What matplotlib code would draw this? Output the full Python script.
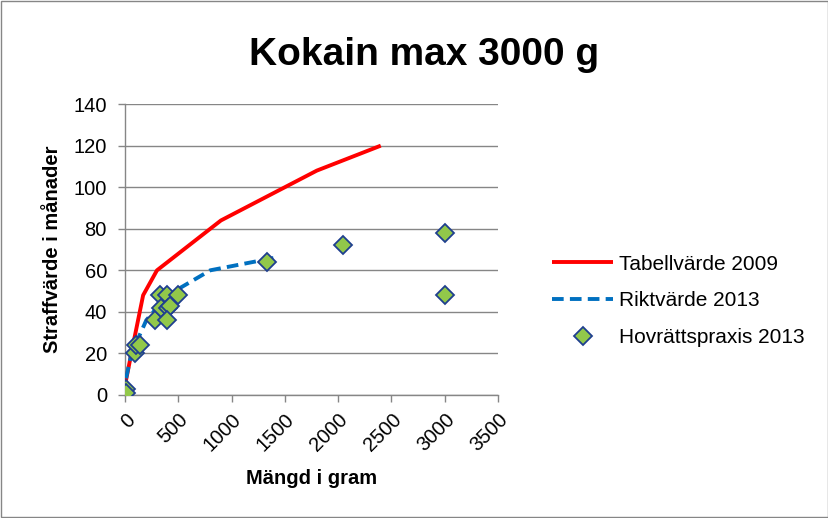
import matplotlib
matplotlib.use("Agg")
import matplotlib.pyplot as plt
from matplotlib.patches import Rectangle

plt.rcParams['font.family'] = ['Liberation Sans', 'DejaVu Sans']

# Tabellvärde 2009
tab_x = [5, 75, 170, 300, 600, 900, 1350, 1800, 2400]
tab_y = [6, 24, 48, 60, 72, 84, 96, 108, 120]

# Riktvärde 2013
rikt_x = [10, 60, 200, 400, 800, 1400]
rikt_y = [8, 20, 36, 48, 60, 66]

# Hovrättspraxis 2013
hov_x = [10, 5, 90, 100, 140, 280, 330, 390, 500, 340, 400, 420, 390, 1330, 2050, 3000, 3000]
hov_y = [3, 1, 20, 24, 24, 36, 48, 48, 48, 42, 42, 43, 36, 64, 72, 78, 48]

fig = plt.figure(figsize=(8.29, 5.18), dpi=100)
ax = fig.add_axes([0.1508, 0.2375, 0.4499, 0.5615])

ax.plot(tab_x, tab_y, color='#FF0000', lw=2.8, solid_capstyle='butt',
        label='Tabellvärde 2009', zorder=3)
ax.plot(rikt_x, rikt_y, color='#0070C0', lw=2.8, ls=(0, (3, 1.6)),
        label='Riktvärde 2013', zorder=3)
ax.plot(hov_x, hov_y, ls='none', marker='D', ms=9.5, mfc='#92C84A',
        mec='#1F3F8F', mew=1.3, label='Hovrättspraxis 2013', zorder=4)

ax.set_xlim(0, 3500)
ax.set_ylim(0, 140)
ax.set_xticks(range(0, 3501, 500))
ax.set_yticks(range(0, 141, 20))
ax.set_xticklabels([str(v) for v in range(0, 3501, 500)], rotation=45,
                   ha='right', va='top', rotation_mode='anchor', fontsize=14.5)
ax.tick_params(axis='y', labelsize=14.5, length=5, color='#868686', width=1, pad=8)
ax.tick_params(axis='x', length=5, color='#868686', width=1, pad=6)
ax.grid(axis='y', color='#868686', lw=1)
ax.set_axisbelow(True)
for s in ['top', 'right']:
    ax.spines[s].set_visible(False)
for s in ['left', 'bottom']:
    ax.spines[s].set_color('#868686')
    ax.spines[s].set_linewidth(1)
ax.set_clip_on(False)

ax.set_xlabel('Mängd i gram', fontsize=14.5, fontweight='bold', labelpad=10)
ax.set_ylabel('Straffvärde i månader', fontsize=14.5, fontweight='bold', labelpad=8)

fig.text(424 / 829, 1 - 55 / 518, 'Kokain max 3000 g', fontsize=28,
         fontweight='bold', ha='center', va='center')

fig.legend(loc='center left', bbox_to_anchor=(542 / 829, 1 - 301 / 518),
           frameon=False, fontsize=15, labelspacing=0.85, handlelength=2.9,
           handletextpad=0.3, borderpad=0)

fig.patches.append(Rectangle((0.0015, 0.002), 0.997, 0.996, transform=fig.transFigure,
                             fill=False, edgecolor='#868686', lw=1))

fig.savefig('out.png', dpi=100)
